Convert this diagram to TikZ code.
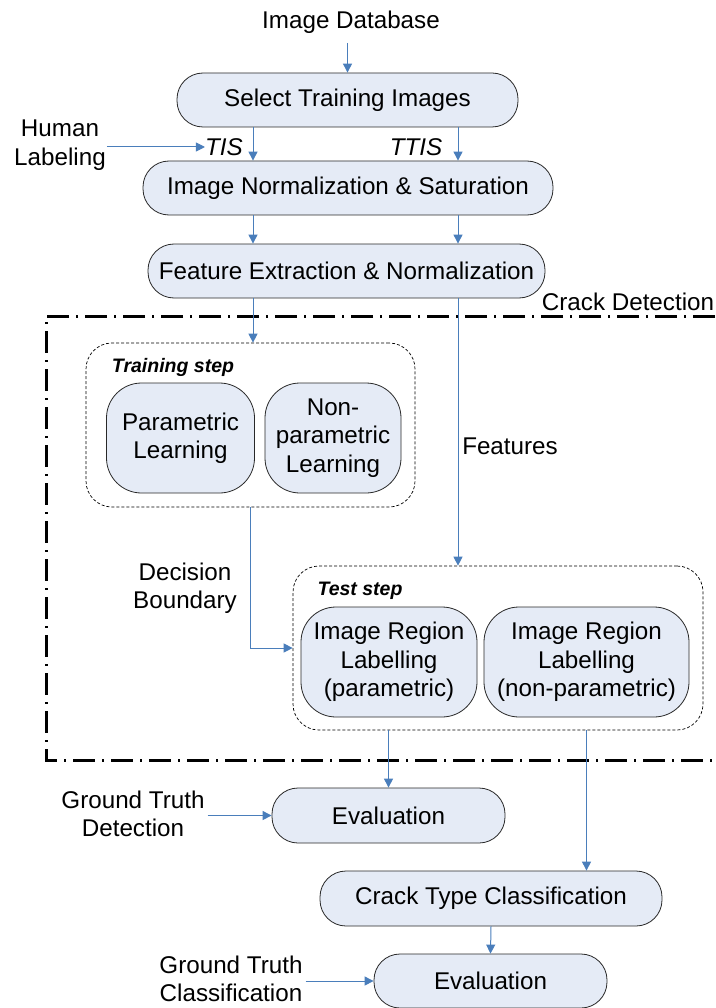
\documentclass[tikz,border=0pt]{standalone}
\usepackage{fontspec}
\setmainfont{Liberation Sans}
\usetikzlibrary{arrows.meta}
\definecolor{boxfill}{RGB}{229,235,246}
\definecolor{boxline}{RGB}{40,40,40}
\definecolor{flowblue}{RGB}{74,126,187}
\newcommand{\mainsz}{\fontsize{24.2}{28.5}\selectfont}
\newcommand{\stepsz}{\fontsize{19.5}{22}\selectfont\bfseries\itshape}
\begin{document}
\begin{tikzpicture}[x=1pt,y=-1pt,
  flow/.style={draw=boxline, fill=boxfill, line width=0.8pt, font=\mainsz,
    align=center, inner sep=0pt},
  group/.style={draw=black, line width=0.7pt, dash pattern=on 3pt off 2pt,
    inner sep=0pt},
  lbl/.style={font=\mainsz, align=center, inner sep=0pt},
  arr/.style={draw=flowblue, line width=1pt,
    -{Triangle[length=9pt,width=9pt]}},
  frame/.style={draw=black, line width=3pt,
    dash pattern=on 22pt off 7pt on 2pt off 7pt}]
\useasboundingbox (0,0) rectangle (715,1008);

% column positions of the two parallel streams
\coordinate (xL) at (253,0);
\coordinate (xR) at (458,0);

% top of the pipeline
\node[lbl] (imgdb) at (351,22) {Image Database};
\coordinate (dbout) at (347.5,43);
\node[flow, minimum width=341pt, minimum height=54pt, rounded corners=26pt]
  (sel) at (347.5,100) {Select Training Images};
\node[flow, minimum width=410pt, minimum height=54pt, rounded corners=26pt]
  (norm) at (348,188) {Image Normalization \& Saturation};
\node[flow, minimum width=397pt, minimum height=54pt, rounded corners=26pt]
  (feat) at (346.5,271) {Feature Extraction \& Normalization};

\node[lbl] (hl) at (60,145) {Human\\Labeling};
\node[lbl, font=\mainsz\itshape] (tis) at (224,147) {TIS};
\node[lbl, font=\mainsz\itshape] (ttis) at (416,147) {TTIS};

% crack detection frame (open to the right)
\draw[frame] (715,316) -- (46,316) -- (46,760) -- (715,760);
\node[lbl] (cd) at (628,302) {Crack Detection};

% training step
\node[group, minimum width=329pt, minimum height=164pt, rounded corners=26pt]
  (train) at (250.5,425) {};
\node[lbl, font=\stepsz] (trainlbl) at (173,367) {Training step};
\node[flow, minimum width=148pt, minimum height=110pt, rounded corners=35pt]
  (par) at (180.5,438) {Parametric\\Learning};
\node[flow, minimum width=136pt, minimum height=110pt, rounded corners=35pt]
  (npar) at (333,438) {Non-\\parametric\\Learning};

% test step
\node[group, minimum width=410pt, minimum height=164pt, rounded corners=26pt]
  (test) at (498,648) {};
\node[lbl, font=\stepsz] (testlbl) at (360,591) {Test step};
\node[flow, minimum width=176pt, minimum height=110pt, rounded corners=35pt]
  (irl1) at (389,662) {Image Region\\Labelling\\(parametric)};
\node[flow, minimum width=205pt, minimum height=110pt, rounded corners=35pt]
  (irl2) at (586.5,662) {Image Region\\Labelling\\(non-parametric)};

\node[lbl] (feats) at (510,446) {Features};
\node[lbl] (db) at (185,588) {Decision\\Boundary};

% evaluation and classification
\node[flow, minimum width=233pt, minimum height=55pt, rounded corners=26pt]
  (eval1) at (388.5,815.5) {Evaluation};
\node[flow, minimum width=342pt, minimum height=55pt, rounded corners=26pt]
  (ctc) at (491,898.5) {Crack Type Classification};
\node[flow, minimum width=233pt, minimum height=54pt, rounded corners=26pt]
  (eval2) at (490.5,981) {Evaluation};
\node[lbl] (gtd) at (133,814) {Ground Truth\\Detection};
\node[lbl] (gtc) at (231,979) {Ground Truth\\Classification};

% connectors
\draw[arr] (dbout) -- (sel.north);
\draw[arr] (sel.south -| xL) -- (norm.north -| xL);
\draw[arr] (sel.south -| xR) -- (norm.north -| xR);
\draw[arr] ([xshift=1pt]hl.east |- tis.west) -- (tis.west);
\draw[arr] (norm.south -| xL) -- (feat.north -| xL);
\draw[arr] (norm.south -| xR) -- (feat.north -| xR);
\draw[arr] (feat.south -| xL) -- (train.north -| xL);
\draw[arr] (feat.south -| xR) -- (test.north -| xR);
\draw[arr] (train.south) |- (test.west);
\draw[arr] (test.south -| eval1.north) -- (eval1.north);
\draw[arr] (test.south -| irl2.south) -- (ctc.north -| irl2.south);
\draw[arr] (ctc.south) -- (eval2.north);
\draw[arr] ([xshift=3pt]gtd.east |- eval1.west) -- (eval1.west);
\draw[arr] ([xshift=3pt]gtc.east |- eval2.west) -- (eval2.west);
\end{tikzpicture}
\end{document}
